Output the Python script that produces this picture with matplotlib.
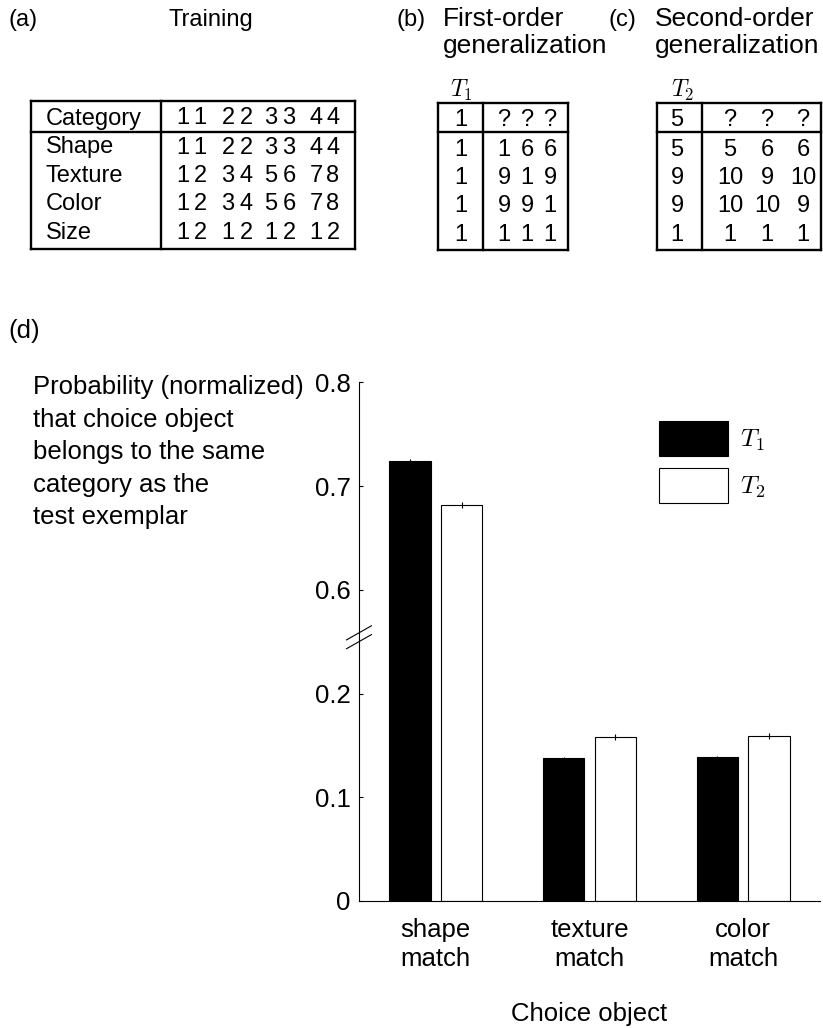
import numpy as np
import matplotlib
matplotlib.use("Agg")
import matplotlib.pyplot as plt
from matplotlib.lines import Line2D

plt.rcParams['font.family'] = ['Liberation Sans', 'DejaVu Sans']
plt.rcParams['mathtext.fontset'] = 'cm'

# Training set and test trials
train_rows = ["Category", "Shape", "Texture", "Color", "Size"]
train_vals = [[1, 1, 2, 2, 3, 3, 4, 4],
              [1, 1, 2, 2, 3, 3, 4, 4],
              [1, 2, 3, 4, 5, 6, 7, 8],
              [1, 2, 3, 4, 5, 6, 7, 8],
              [1, 2, 1, 2, 1, 2, 1, 2]]
t1_test = ["1", "1", "1", "1", "1"]
t1_choices = [["?", "?", "?"], ["1", "6", "6"], ["9", "1", "9"], ["9", "9", "1"], ["1", "1", "1"]]
t2_test = ["5", "5", "9", "9", "1"]
t2_choices = [["?", "?", "?"], ["5", "6", "6"], ["10", "9", "10"], ["10", "10", "9"], ["1", "1", "1"]]

# Model results
choice_labels = ["shape\nmatch", "texture\nmatch", "color\nmatch"]
t1_prob = [0.724, 0.138, 0.139]
t2_prob = [0.682, 0.158, 0.159]
t1_err = [0.002, 0.001, 0.001]
t2_err = [0.003, 0.003, 0.003]
ytick_vals = [0, 0.1, 0.2, 0.6, 0.7, 0.8]

W, H = 823, 1028
fig = plt.figure(figsize=(W / 100, H / 100), dpi=100)


def fx(x):
    return x / W


def fy(y):
    return 1 - y / H


def txt(x, y, s, size=17, ha='left', **kw):
    fig.text(fx(x), fy(y), s, fontsize=size, ha=ha, va='baseline', **kw)


def hline(x0, x1, y, lw=1.7):
    fig.add_artist(Line2D([fx(x0), fx(x1)], [fy(y), fy(y)], color='black', lw=lw))


def vline(x, y0, y1, lw=1.7):
    fig.add_artist(Line2D([fx(x), fx(x)], [fy(y0), fy(y1)], color='black', lw=lw))


def box(left, right, top, bottom, div_x, head_y):
    hline(left, right, top)
    hline(left, right, bottom)
    hline(left, right, head_y)
    vline(left, top, bottom)
    vline(right, top, bottom)
    vline(div_x, top, bottom)


# ---- (a) Training table
txt(8, 26, "(a)")
txt(211, 26, "Training", ha='center')
box(31, 355, 101, 249, 161, 131.5)
row_y = [116, 145, 173.5, 202, 230.5]
col_x = [183, 200, 228, 246, 271, 289, 316, 333]
for r, name in enumerate(train_rows):
    txt(46, row_y[r] + 8.5, name)
    for c, v in enumerate(train_vals[r]):
        txt(col_x[c], row_y[r] + 8.5, str(v), ha='center')

# ---- (b) first-order generalization
txt(397, 26, "(b)")
txt(443, 26, "First-order", size=19)
txt(443, 53, "generalization", size=19)
txt(450, 97, r"$T_1$")
box(438, 568, 103, 250, 483, 132)
row_y2 = [117, 147, 175.5, 204, 232]
for r in range(5):
    txt(461, row_y2[r] + 8.5, t1_test[r], ha='center')
    for c, s in enumerate(t1_choices[r]):
        txt([504, 527, 550][c], row_y2[r] + 8.5, s, ha='center')

# ---- (c) second-order generalization
txt(608, 26, "(c)")
txt(655, 26, "Second-order", size=19)
txt(655, 53, "generalization", size=19)
txt(671, 97, r"$T_2$")
box(657, 821, 103, 250, 702, 132)
for r in range(5):
    txt(677, row_y2[r] + 8.5, t2_test[r], ha='center')
    for c, s in enumerate(t2_choices[r]):
        txt([730, 767, 803][c], row_y2[r] + 8.5, s, ha='center')

# ---- (d) bar chart with a broken y axis
txt(8, 338, "(d)", size=18.5)
para = ["Probability (normalized)", "that choice object", "belongs to the same",
        "category as the", "test exemplar"]
for i, line in enumerate(para):
    txt(33, 394 + 32.5 * i, line, size=18.5)


def squash(v):
    # values above the break are shifted down so 0.6 sits one step above 0.2
    v = np.asarray(v, dtype=float)
    return np.where(v > 0.4, v - 0.3, v)


ax = fig.add_axes([fx(359), fy(901), (820 - 359) / W, (901 - 382.3) / H])
x = np.arange(len(choice_labels))
bw = 0.27
ax.bar(x - 0.168, squash(t1_prob), bw, color='black', edgecolor='black', lw=0.8, label=r"$T_1$")
ax.bar(x + 0.168, squash(t2_prob), bw, color='white', edgecolor='black', lw=0.8, label=r"$T_2$")
ax.errorbar(x - 0.168, squash(t1_prob), yerr=t1_err, fmt='none', ecolor='black', elinewidth=0.8,
            capsize=0, clip_on=False)
ax.errorbar(x + 0.168, squash(t2_prob), yerr=t2_err, fmt='none', ecolor='black', elinewidth=0.8,
            capsize=0, clip_on=False)

ax.set_xlim(-0.5, 2.5)
ax.set_ylim(0, 0.5)
ax.set_yticks(squash(ytick_vals))
ax.set_yticklabels([("%g" % v) for v in ytick_vals])
ax.set_xticks(x)
ax.set_xticklabels(choice_labels, linespacing=1.27)
ax.tick_params(axis='y', direction='in', length=3, width=0.8, pad=6, labelsize=18.5)
ax.tick_params(axis='x', length=0, pad=12.5, labelsize=18.5)
for side in ['top', 'right']:
    ax.spines[side].set_visible(False)
ax.spines['left'].set_linewidth(0.8)
ax.spines['bottom'].set_linewidth(0.8)
ax.set_xlabel("Choice object", fontsize=18.5, labelpad=22)

# break marks on the y axis
for yb in [0.2585, 0.250]:
    ax.plot([-0.027, 0.027], [yb - 0.0068, yb + 0.0068], color='black', lw=0.8,
            transform=ax.get_yaxis_transform(), clip_on=False)

ax.legend(loc='upper left', bbox_to_anchor=(fx(659), fy(421)), bbox_transform=fig.transFigure,
          frameon=False, fontsize=18.5, handlelength=2.7, handleheight=1.73,
          labelspacing=0.45, handletextpad=0.45, borderpad=0, borderaxespad=0)

fig.savefig("out.png", dpi=100)
